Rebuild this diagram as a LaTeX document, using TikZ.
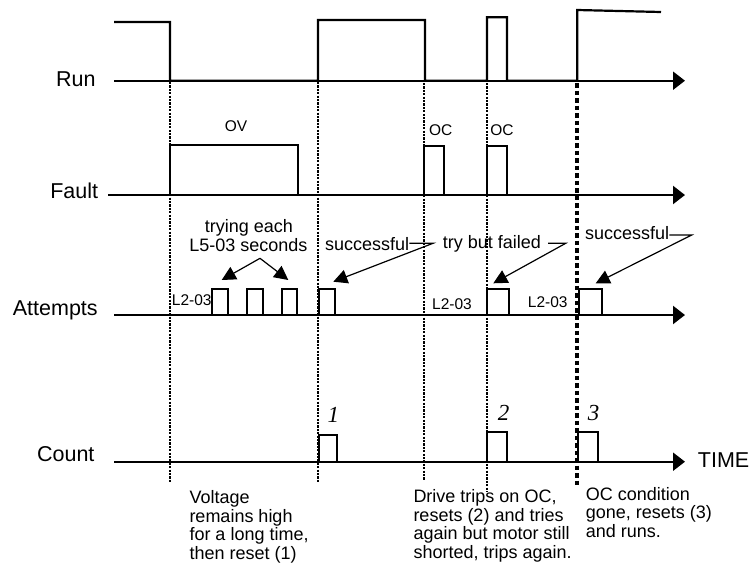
\documentclass[tikz,border=0pt]{standalone}
\usepackage{fontspec}
\setmainfont{Liberation Sans}
\newfontfamily\numfont{Liberation Serif}
\usetikzlibrary{arrows.meta}
\begin{document}
\begin{tikzpicture}[x=1pt,y=-1pt,
  sig/.style={line width=2.2pt, line join=miter},
  axis/.style={line width=2.2pt, -{Triangle[length=12pt,width=18pt]}},
  dots/.style={line width=2.3pt, dash pattern=on 2.2pt off 1.2pt},
  bigdots/.style={line width=4.2pt, dash pattern=on 4.5pt off 3pt},
  lab/.style={font=\fontsize{21.5}{24}\selectfont, inner sep=0pt, anchor=base},
  small/.style={font=\fontsize{15.5}{18}\selectfont, inner sep=0pt, anchor=base},
  note/.style={font=\fontsize{18}{18.6}\selectfont, inner sep=0pt, align=left, anchor=north west},
  ann/.style={font=\fontsize{18}{20}\selectfont, inner sep=0pt, anchor=base},
  num/.style={font=\fontsize{23}{24}\selectfont\numfont\itshape, inner sep=0pt, anchor=base},
  pointer/.style={line width=1.2pt, -{Triangle[length=14pt,width=14pt]}}
]
\useasboundingbox (0,0) rectangle (750,563);

% signal labels
\node[lab] (run) at (75.8,86.7) {Run};
\node[lab] (fault) at (74.2,198.3) {Fault};
\node[lab] (att) at (55.3,315) {Attempts};
\node[lab] (cnt) at (65.8,461.7) {Count};
\node[lab, anchor=base west] (time) at (697.7,467.3) {TIME};

% axes
\coordinate (runS) at (114,80.7);   \coordinate (runE) at (685,80.7);
\coordinate (fltS) at (108,195);    \coordinate (fltE) at (685,195);
\coordinate (attS) at (114,315);    \coordinate (attE) at (685,315);
\coordinate (cntS) at (114,461.7);  \coordinate (cntE) at (685,461.7);
\draw[axis] (runS) -- (runE);
\draw[axis] (fltS) -- (fltE);
\draw[axis] (attS) -- (attE);
\draw[axis] (cntS) -- (cntE);

% Run waveform
\draw[sig] (114,22) -- (170,22) -- (170,80.7) -- (318,80.7) -- (318,20) -- (425,20) -- (425,80.7)
  -- (487,80.7) -- (487,17.3) -- (507,17.3) -- (507,80.7) -- (577.3,80.7) -- (577.3,10) -- (661,12);

% Fault waveform
\draw[sig] (170,195) -- (170,145) -- (298,145) -- (298,195);
\draw[sig] (424.3,195) -- (424.3,145.7) -- (444.3,145.7) -- (444.3,195);
\draw[sig] (487,195) -- (487,145.7) -- (507,145.7) -- (507,195);

% Attempts waveform
\foreach \a/\b in {212/227.7, 246.7/263.3, 281.7/296.7, 319/335}
  \draw[sig] (\a,315) -- (\a,289.3) -- (\b,289.3) -- (\b,315);
\draw[sig] (487,315) -- (487,289.3) -- (509,289.3) -- (509,315);
\draw[sig] (579.3,315) -- (579.3,289.3) -- (601.7,289.3) -- (601.7,315);

% Count waveform
\draw[sig] (319,461.7) -- (319,435) -- (336.7,435) -- (336.7,461.7);
\draw[sig] (487,461.7) -- (487,432.3) -- (507.3,432.3) -- (507.3,461.7);
\draw[sig] (578.3,461.7) -- (578.3,432.3) -- (597.7,432.3) -- (597.7,461.7);

% dotted verticals
\draw[dots] (170,82) -- (170,481.7);
\draw[dots] (318,82) -- (318,483);
\draw[dots] (424.3,83) -- (424.3,480);
\draw[dots] (487,83) -- (487,491.7);
\draw[bigdots] (577.3,83) -- (577.3,486.7);

% small labels
\node[small] (ov) at (236,131.7) {OV};
\node[small] (oc1) at (440.7,135) {OC};
\node[small] (oc2) at (502,135) {OC};
\node[small] (l1) at (191.8,305.7) {L2-03};
\node[small] (l2) at (452,309.3) {L2-03};
\node[small] (l3) at (547.7,307.3) {L2-03};

% annotations
\node[ann] (try1) at (249,232.5) {trying each};
\node[ann] (try2) at (248.3,251.7) {L5-03 seconds};
\coordinate (apex) at (260,258.3);
\coordinate (tipA) at (221.7,280);
\coordinate (tipB) at (288.3,280);
\draw[pointer] (apex) -- (tipA);
\draw[pointer] (apex) -- (tipB);

\node[ann, anchor=base west] (succ1) at (325,250.5) {successful};
\coordinate (k1) at (433,243.3);
\coordinate (t1) at (333.3,281.7);
\draw[pointer] (succ1.east |- k1) -- (k1) -- (t1);

\node[ann] (fail) at (492,248.3) {try but failed};
\coordinate (k2) at (565.7,243.3);
\coordinate (t2) at (493.3,283.3);
\draw[pointer] ([xshift=7pt]fail.east |- k2) -- (k2) -- (t2);

\node[ann, anchor=base west] (succ2) at (585,239.3) {successful};
\coordinate (k3) at (691.7,235);
\coordinate (t3) at (595.7,283.3);
\draw[pointer] (succ2.east |- k3) -- (k3) -- (t3);

% count numbers
\node[num] (n1) at (333.3,422.3) {1};
\node[num] (n2) at (503.7,420) {2};
\node[num] (n3) at (593.7,420) {3};

% notes
\node[note] (noteA) at (189.3,490.5) {Voltage\\remains high\\for a long time,\\then reset (1)};
\node[note] (noteB) at (413.3,489.5) {Drive trips on OC,\\resets (2) and tries\\again but motor still\\shorted, trips again.};
\node[note] (noteC) at (585.7,487) {OC condition\\gone, resets (3)\\and runs.};
\end{tikzpicture}
\end{document}
